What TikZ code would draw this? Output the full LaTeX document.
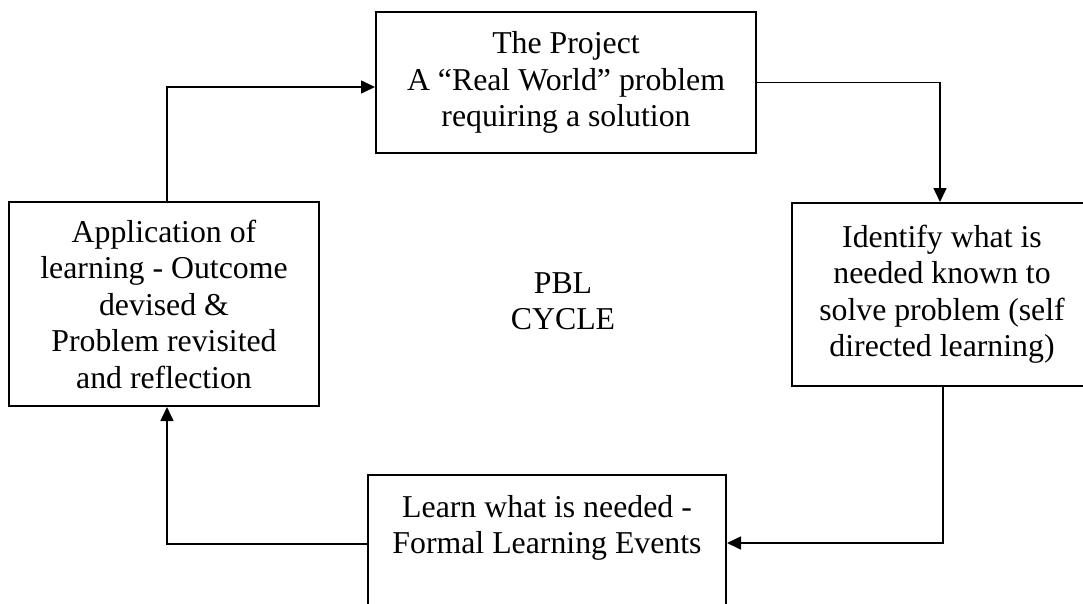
\documentclass[tikz,border=0pt]{standalone}
\usepackage{fontspec}
\setmainfont{Liberation Serif}
\usetikzlibrary{arrows.meta}
\begin{document}
\begin{tikzpicture}[x=1pt,y=-1pt,
  box/.style={draw=black,line width=2pt,align=center,inner sep=0pt,
    font=\fontsize{31.8}{36.5}\selectfont},
  lbl/.style={align=center,inner sep=0pt,font=\fontsize{31.8}{36.5}\selectfont},
  conn/.style={line width=1.6pt},
  arr/.style={conn,-{Triangle[length=14pt,width=13pt]}}]
\useasboundingbox (0,0) rectangle (1083,603);
\clip (0,0) rectangle (1083,603);
\node[box,minimum width=380,minimum height=141] (T) at (566,82.5)
  {The Project\\A \textquotedblleft Real World\textquotedblright\ problem\\requiring a solution};
\node[box,minimum width=360,minimum height=183] (R) at (972,294.5)
  {\hspace*{-30pt}\begin{tabular}{@{}c@{}}Identify what is\\needed known to\\solve problem (self\\directed learning)\end{tabular}\hspace*{30pt}};
\node[box,minimum width=358,inner ysep=20pt,text depth=130pt,anchor=north] (B) at (547,474)
  {Learn what is needed -\\Formal Learning Events};
\node[box,minimum width=310,minimum height=204] (L) at (164,304)
  {Application of\\learning - Outcome\\devised \&\\Problem revisited\\and reflection};
\node[lbl] (C) at (563,301) {PBL\\CYCLE};
\draw[arr] ([xshift=3pt]L.north) |- ([yshift=-4.5pt]T.west);
\draw[arr] (T.east) -| ([xshift=-32pt]R.north);
\draw[arr] ([xshift=-29pt]R.south) |- (B.east |- 0,543);
\draw[arr] (B.west |- 0,544) -| ([xshift=3pt]L.south);
\end{tikzpicture}
\end{document}
